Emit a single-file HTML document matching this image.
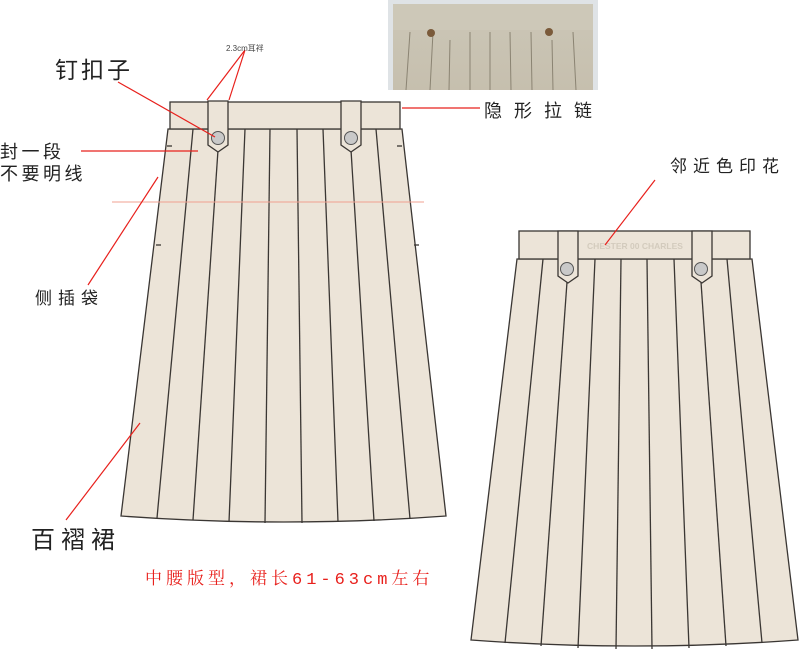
<!DOCTYPE html>
<html><head><meta charset="utf-8"><style>
html,body{margin:0;padding:0;background:#fff;width:800px;height:654px;overflow:hidden}
svg{display:block}
text{font-family:"Liberation Sans","Noto Sans CJK SC",sans-serif}
</style></head><body>
<svg width="800" height="654" viewBox="0 0 800 654" xmlns="http://www.w3.org/2000/svg">
<defs>
<linearGradient id="ph" x1="0" y1="0" x2="0" y2="1">
<stop offset="0" stop-color="#cfd3d4"/><stop offset="0.1" stop-color="#cbc6b6"/><stop offset="1" stop-color="#c6bfae"/>
</linearGradient>
</defs>
<rect x="388" y="0" width="210" height="90" fill="#dfe3e6"/>
<rect x="393" y="4" width="200" height="86" fill="url(#ph)"/>
<rect x="393" y="4" width="200" height="26" fill="#cdc8b8"/>
<g stroke="#8a8372" stroke-width="1">
<line x1="410" y1="32" x2="406" y2="90"/><line x1="433" y1="32" x2="430" y2="90"/>
<line x1="450" y1="40" x2="449" y2="90"/><line x1="470" y1="32" x2="470" y2="90"/>
<line x1="490" y1="32" x2="490" y2="90"/><line x1="510" y1="32" x2="511" y2="90"/>
<line x1="531" y1="32" x2="532" y2="90"/><line x1="552" y1="40" x2="553" y2="90"/>
<line x1="573" y1="32" x2="576" y2="90"/>
</g>
<circle cx="431" cy="33" r="4" fill="#7a5a3a"/><circle cx="549" cy="32" r="4" fill="#7a5a3a"/>

<g stroke="#3a3633" stroke-width="1.3" fill="#ece4d8">
<path d="M168 129 L402 129 L446 516 Q284 528 121 516 Z"/>
<rect x="170" y="102" width="230" height="27"/>
</g>
<g stroke="#3a3633" stroke-width="1.3">
<line x1="193" y1="129" x2="157" y2="518"/>
<line x1="218" y1="150" x2="193" y2="520"/>
<line x1="245" y1="129" x2="229" y2="522"/>
<line x1="270" y1="129" x2="265" y2="523"/>
<line x1="297" y1="129" x2="302" y2="523"/>
<line x1="323" y1="129" x2="338" y2="522"/>
<line x1="351" y1="150" x2="374" y2="521"/>
<line x1="376" y1="129" x2="410" y2="519"/>
<line x1="167" y1="146" x2="172" y2="146"/>
<line x1="397" y1="146" x2="402" y2="146"/>
<line x1="414" y1="245" x2="419" y2="245"/>
<line x1="156" y1="245" x2="161" y2="245"/>
</g>
<g stroke="#3a3633" stroke-width="1.3" fill="#ece4d8">
<path d="M208 101 L228 101 L228 145 L218 152 L208 145 Z"/>
<path d="M341 101 L361 101 L361 145 L351 152 L341 145 Z"/>
</g>
<circle cx="218" cy="138" r="6.5" fill="#c9c9c9" stroke="#555" stroke-width="1"/>
<circle cx="351" cy="138" r="6.5" fill="#c9c9c9" stroke="#555" stroke-width="1"/>
<line x1="112" y1="202" x2="424" y2="202" stroke="#f0a090" stroke-width="1"/>

<g stroke="#3a3633" stroke-width="1.3" fill="#ece4d8">
<path d="M517 259 L752 259 L798 640 Q634 652 471 640 Z"/>
<rect x="519" y="231" width="231" height="28"/>
</g>
<g stroke="#3a3633" stroke-width="1.3">
<line x1="543" y1="259" x2="505" y2="643"/>
<line x1="567" y1="282" x2="541" y2="646"/>
<line x1="595" y1="259" x2="578" y2="648"/>
<line x1="621" y1="259" x2="616" y2="649"/>
<line x1="647" y1="259" x2="652" y2="649"/>
<line x1="674" y1="259" x2="689" y2="648"/>
<line x1="701" y1="282" x2="726" y2="646"/>
<line x1="727" y1="259" x2="762" y2="643"/>
</g>
<g stroke="#3a3633" stroke-width="1.3" fill="#ece4d8">
<path d="M558 231 L578 231 L578 276 L568 283 L558 276 Z"/>
<path d="M692 231 L712 231 L712 276 L702 283 L692 276 Z"/>
</g>
<circle cx="567" cy="269" r="6.5" fill="#c9c9c9" stroke="#555" stroke-width="1"/>
<circle cx="701" cy="269" r="6.5" fill="#c9c9c9" stroke="#555" stroke-width="1"/>
<text x="635" y="249" font-size="8.5" font-weight="bold" fill="#d3cbbd" text-anchor="middle">CHESTER 00 CHARLES</text>

<g stroke="#e8201c" stroke-width="1.2" fill="none">
<line x1="245" y1="50" x2="207" y2="100"/>
<line x1="245" y1="50" x2="229" y2="100"/>
<line x1="118" y1="82" x2="215" y2="137"/>
<line x1="81" y1="151" x2="198" y2="151"/>
<line x1="402" y1="108" x2="480" y2="108"/>
<line x1="158" y1="177" x2="88" y2="285"/>
<line x1="140" y1="423" x2="66" y2="520"/>
<line x1="655" y1="180" x2="605" y2="245"/>
</g>

<text x="226" y="51" font-size="8" fill="#444">2.3cm耳袢</text>
<text x="55" y="78" font-size="23" fill="#222" letter-spacing="3">钉扣子</text>
<text x="0" y="158" font-size="18" fill="#222" letter-spacing="3.5">封一段</text>
<text x="0" y="180" font-size="18" fill="#222" letter-spacing="3.5">不要明线</text>
<text x="484" y="117" font-size="18" fill="#222" letter-spacing="12">隐形拉链</text>
<text x="35" y="304" font-size="17" fill="#222" letter-spacing="6">侧插袋</text>
<text x="31" y="548" font-size="24" fill="#222" letter-spacing="6">百褶裙</text>
<text x="145" y="584" font-size="17" fill="#e8201c" letter-spacing="4" style="font-family:'Liberation Mono','Noto Serif CJK SC',monospace">中腰版型，裙长61-63cm左右</text>
<text x="670" y="172" font-size="17" fill="#222" letter-spacing="6">邻近色印花</text>
</svg>
</body></html>
